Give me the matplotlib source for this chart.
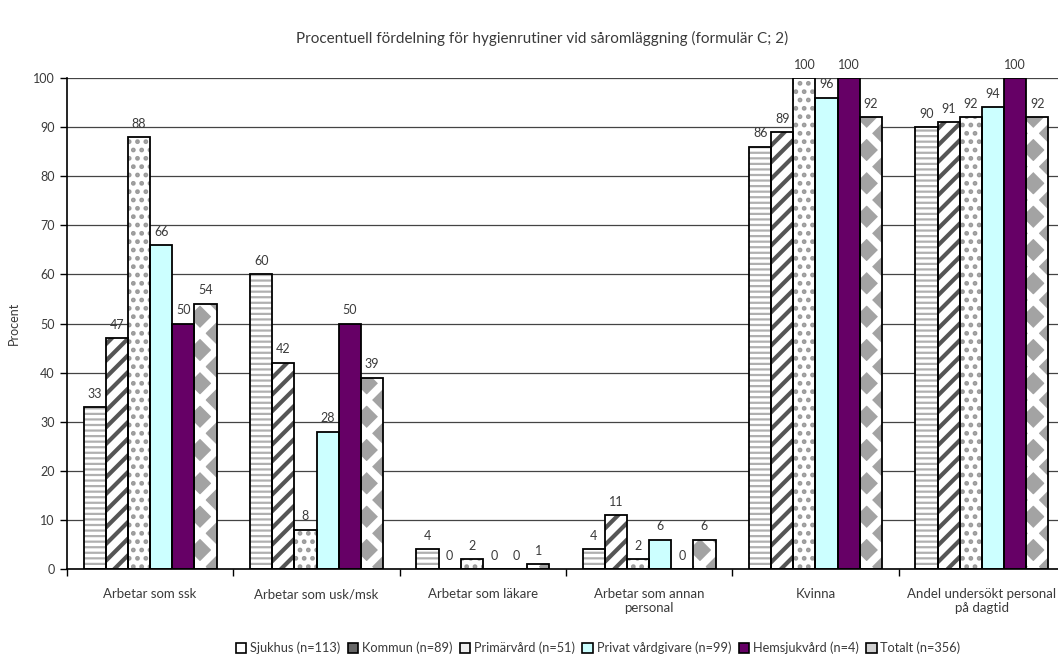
import matplotlib
matplotlib.use("Agg")
import matplotlib.pyplot as plt
import numpy as np
from matplotlib.patches import Patch

plt.rcParams["font.family"] = ["Lato", "DejaVu Sans"]

categories = [
    "Arbetar som ssk",
    "Arbetar som usk/msk",
    "Arbetar som läkare",
    "Arbetar som annan\npersonal",
    "Kvinna",
    "Andel undersökt personal\npå dagtid",
]
series_names = [
    "Sjukhus (n=113)",
    "Kommun (n=89)",
    "Primärvård (n=51)",
    "Privat vårdgivare (n=99)",
    "Hemsjukvård (n=4)",
    "Totalt (n=356)",
]
sjukhus = [33, 60, 4, 4, 86, 90]
kommun = [47, 42, 0, 11, 89, 91]
primarvard = [88, 8, 2, 2, 100, 92]
privat = [66, 28, 0, 6, 96, 94]
hemsjukvard = [50, 50, 0, 0, 100, 100]
totalt = [54, 39, 1, 6, 92, 92]
values = [sjukhus, kommun, primarvard, privat, hemsjukvard, totalt]

# (facecolor, hatch, hatch colour, hatch linewidth)
styles = [
    ("white", "---", "#b0b0b0", 1.6),
    ("white", "//", "#555555", 3.0),
    ("white", "..", "#9a9a9a", 2.2),
    ("#ccffff", None, None, 1.0),
    ("#660066", None, None, 1.0),
    ("#a3a3a3", "x", "white", 5.5),  # gray diamonds on white
]
# small legend squares, roughly as the patterns look when shrunk
legend_faces = ["white", "#666666", "#eeeeee", "#ccffff", "#660066", "#d0d0d0"]

fig = plt.figure(figsize=(10.58, 6.59), dpi=100)
ax = fig.add_axes([67 / 1058, 1 - 569 / 659, 998 / 1058, 491 / 659])

x = np.arange(len(categories))
w = 0.133
handles = []
for i, (vals, (fc, hatch, hc, hlw)) in enumerate(zip(values, styles)):
    pos = x + (i - 2.5) * w
    with plt.rc_context({"hatch.linewidth": hlw}):
        if hatch:
            ax.bar(pos, vals, w, color=fc, edgecolor=hc, hatch=hatch,
                   linewidth=0, zorder=2)
        else:
            ax.bar(pos, vals, w, color=fc, linewidth=0, zorder=2)
    ax.bar(pos, vals, w, fill=False, edgecolor="black", linewidth=1.3, zorder=3)
    for p, v in zip(pos, vals):
        ax.text(p, v + 1.5, str(v), ha="center", va="bottom", fontsize=9,
                color="#3a3a3a", zorder=4)
    handles.append(Patch(facecolor=legend_faces[i], edgecolor="black",
                         linewidth=1.2))

ax.set_xlim(-0.5, 5.5)
ax.set_ylim(0, 100)
ax.set_yticks(np.arange(0, 101, 10))
ax.set_yticklabels([str(t) for t in range(0, 101, 10)], fontsize=9, color="#3a3a3a")
ax.yaxis.grid(True, color="#444444", linewidth=0.9)
ax.set_axisbelow(True)
ax.set_xticks(x)
ax.set_xticklabels(categories, fontsize=9.5, color="#3a3a3a")
ax.tick_params(axis="x", length=0, pad=14)
ax.set_xticks(np.arange(-0.5, 6.0, 1.0), minor=True)
ax.tick_params(axis="x", which="minor", length=5, width=1, direction="out")
ax.tick_params(axis="y", length=5, width=1, pad=4)
for s in ["top", "right"]:
    ax.spines[s].set_visible(False)
ax.spines["left"].set_linewidth(1.2)
ax.spines["bottom"].set_linewidth(1.2)
ax.set_ylabel("Procent", fontsize=9, color="#3a3a3a", labelpad=9)

fig.text(542 / 1058, 1 - 38 / 659,
         "Procentuell fördelning för hygienrutiner vid såromläggning (formulär C; 2)",
         ha="center", va="center", fontsize=11, color="#3a3a3a")

fig.legend(handles, series_names, loc="center", ncol=6,
           bbox_to_anchor=(598 / 1058, 1 - 648 / 659), frameon=False,
           fontsize=9.2, handlelength=0.8, handleheight=0.8, handletextpad=0.3,
           columnspacing=0.6, labelcolor="#3a3a3a")

fig.savefig("out.png", dpi=100)
